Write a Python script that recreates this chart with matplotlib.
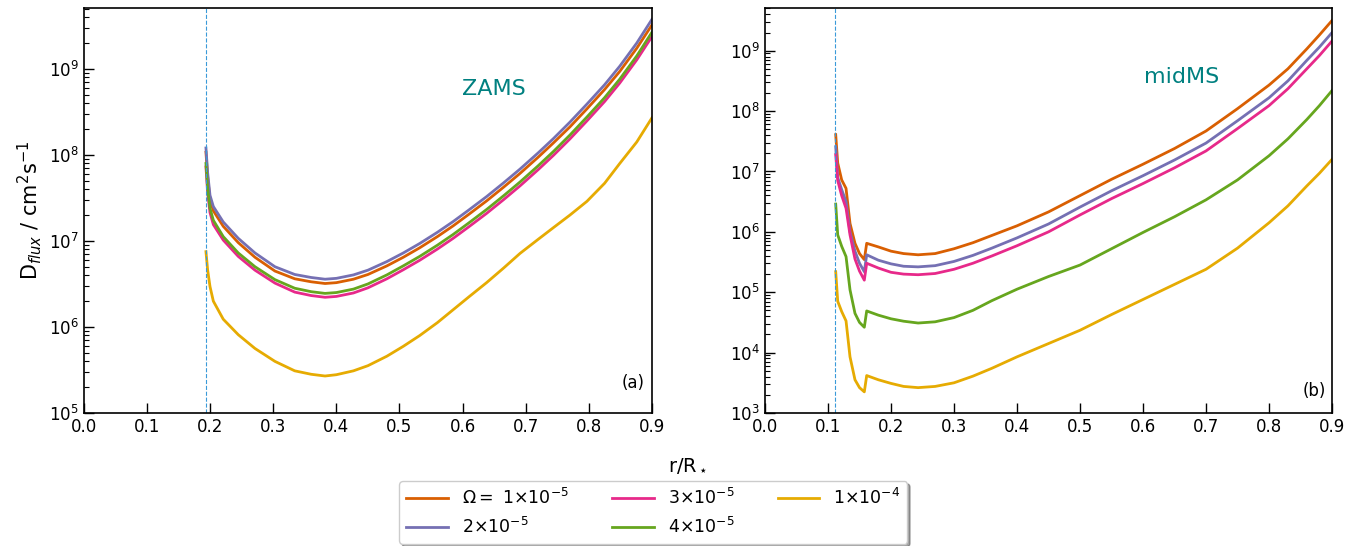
import numpy as np
import matplotlib
matplotlib.use('Agg')
import matplotlib.pyplot as plt

# ZAMS panel (a): r/R* and log10(D_flux)
r_zams = [0.1933, 0.196, 0.1997, 0.205, 0.2207, 0.2445, 0.271, 0.3026, 0.334, 0.36, 0.382,
          0.40, 0.427, 0.45, 0.48, 0.506, 0.532, 0.56, 0.585, 0.61, 0.638, 0.665, 0.691,
          0.72, 0.744, 0.77, 0.797, 0.825, 0.849, 0.876, 0.9]
zams_1e5 = [8.03, 7.74, 7.48, 7.35, 7.17, 6.98, 6.81, 6.65, 6.56, 6.525, 6.505,
            6.515, 6.555, 6.61, 6.71, 6.81, 6.92, 7.05, 7.175, 7.31, 7.465, 7.625, 7.785,
            7.975, 8.14, 8.325, 8.535, 8.76, 8.97, 9.24, 9.51]
zams_2e5 = [8.08, 7.79, 7.53, 7.40, 7.22, 7.03, 6.86, 6.70, 6.61, 6.575, 6.555,
            6.565, 6.605, 6.66, 6.76, 6.86, 6.97, 7.10, 7.225, 7.36, 7.515, 7.675, 7.835,
            8.025, 8.19, 8.38, 8.59, 8.815, 9.03, 9.30, 9.575]
zams_3e5 = [7.86, 7.56, 7.33, 7.19, 7.01, 6.82, 6.66, 6.51, 6.405, 6.365, 6.345,
            6.355, 6.395, 6.455, 6.56, 6.665, 6.775, 6.905, 7.03, 7.165, 7.32, 7.48, 7.64,
            7.83, 7.995, 8.185, 8.395, 8.62, 8.835, 9.105, 9.375]
zams_4e5 = [7.90, 7.61, 7.38, 7.24, 7.05, 6.86, 6.70, 6.55, 6.45, 6.41, 6.39,
            6.40, 6.44, 6.50, 6.605, 6.71, 6.82, 6.95, 7.075, 7.21, 7.365, 7.525, 7.685,
            7.875, 8.04, 8.23, 8.44, 8.665, 8.88, 9.15, 9.425]
zams_1e4 = [6.875, 6.66, 6.47, 6.30, 6.09, 5.91, 5.75, 5.60, 5.49, 5.45, 5.43,
            5.445, 5.49, 5.55, 5.66, 5.775, 5.90, 6.05, 6.20, 6.35, 6.515, 6.685, 6.855,
            7.02, 7.155, 7.30, 7.46, 7.67, 7.90, 8.15, 8.43]

# midMS panel (b)
r_mid = [0.1122, 0.1154, 0.1217, 0.1286, 0.1349, 0.1428, 0.150, 0.1576, 0.1614, 0.18,
         0.20, 0.22, 0.243, 0.27, 0.30, 0.33, 0.36, 0.40, 0.45, 0.50, 0.55, 0.60,
         0.65, 0.70, 0.75, 0.80, 0.83, 0.86, 0.88, 0.9]
mid_1e5 = [7.61, 7.14, 6.86, 6.72, 6.14, 5.81, 5.64, 5.54, 5.81, 5.75,
           5.68, 5.64, 5.62, 5.64, 5.72, 5.82, 5.94, 6.10, 6.33, 6.60, 6.87, 7.12,
           7.38, 7.67, 8.04, 8.43, 8.70, 9.03, 9.26, 9.50]
mid_2e5 = [7.41, 6.90, 6.70, 6.50, 6.00, 5.68, 5.48, 5.34, 5.62, 5.53,
           5.47, 5.43, 5.42, 5.44, 5.51, 5.61, 5.73, 5.90, 6.13, 6.41, 6.68, 6.93,
           7.19, 7.47, 7.84, 8.22, 8.50, 8.84, 9.06, 9.30]
mid_3e5 = [7.28, 6.85, 6.60, 6.39, 5.95, 5.55, 5.35, 5.20, 5.48, 5.40,
           5.33, 5.30, 5.29, 5.31, 5.38, 5.48, 5.60, 5.77, 6.00, 6.28, 6.55, 6.80,
           7.06, 7.34, 7.71, 8.09, 8.37, 8.70, 8.92, 9.16]
mid_4e5 = [6.46, 5.95, 5.76, 5.59, 5.04, 4.65, 4.50, 4.42, 4.69, 4.62,
           4.56, 4.52, 4.49, 4.51, 4.58, 4.70, 4.86, 5.05, 5.26, 5.45, 5.72, 5.99,
           6.25, 6.53, 6.86, 7.26, 7.54, 7.86, 8.09, 8.34]
mid_1e4 = [5.34, 4.85, 4.68, 4.525, 3.93, 3.55, 3.42, 3.35, 3.62, 3.55,
           3.49, 3.44, 3.42, 3.44, 3.50, 3.61, 3.74, 3.93, 4.15, 4.37, 4.63, 4.88,
           5.13, 5.38, 5.73, 6.15, 6.43, 6.76, 6.97, 7.20]

labels = [r'$\Omega=$ 1$\times$10$^{-5}$', r'2$\times$10$^{-5}$', r'3$\times$10$^{-5}$',
          r'4$\times$10$^{-5}$', r'1$\times$10$^{-4}$']
colors = ['#d95f02', '#7570b3', '#e7298a', '#66a61e', '#e6ab02']

fig = plt.figure(figsize=(13.61, 5.46), dpi=100)
ax1 = fig.add_axes([0.0617, 0.2436, 0.4173, 0.7418])
ax2 = fig.add_axes([0.5621, 0.2436, 0.4166, 0.7418])

zams = [zams_1e5, zams_2e5, zams_3e5, zams_4e5, zams_1e4]
mid = [mid_1e5, mid_2e5, mid_3e5, mid_4e5, mid_1e4]

for i in range(5):
    ax1.plot(r_zams, 10 ** np.array(zams[i]), color=colors[i], lw=2, label=labels[i])
    ax2.plot(r_mid, 10 ** np.array(mid[i]), color=colors[i], lw=2)

ax1.axvline(0.193, color='#3a9ad9', ls='--', lw=0.8)
ax2.axvline(0.111, color='#3a9ad9', ls='--', lw=0.8)

for ax in [ax1, ax2]:
    ax.set_yscale('log')
    ax.set_xlim(0, 0.9)
    ax.set_xticks(np.arange(0, 0.91, 0.1))
    ax.tick_params(which='major', direction='in', length=7, width=1, labelsize=12)
    ax.tick_params(which='minor', direction='in', length=3.5, width=0.8)
    for s in ax.spines.values():
        s.set_linewidth(1.2)

ax1.set_ylim(1e5, 5.1e9)
ax2.set_ylim(1e3, 5.1e9)

ax1.text(0.722, 0.784, 'ZAMS', color='teal', fontsize=16, ha='center', va='baseline',
         transform=ax1.transAxes)
ax2.text(0.734, 0.815, 'midMS', color='teal', fontsize=16, ha='center', va='baseline',
         transform=ax2.transAxes)
ax1.text(0.988, 0.062, '(a)', fontsize=12, ha='right', va='baseline', transform=ax1.transAxes)
ax2.text(0.989, 0.043, '(b)', fontsize=12, ha='right', va='baseline', transform=ax2.transAxes)

ax1.set_ylabel(r'D$_{flux}$ / cm$^2$s$^{-1}$', fontsize=15)
fig.text(0.505, 0.148, r'r/R$_\star$', fontsize=14, ha='center', va='center')

fig.legend(loc='lower center', bbox_to_anchor=(0.48, -0.012), ncol=3, fontsize=12.5,
           shadow=True, handlelength=2.4, columnspacing=2.5)

fig.savefig('out.png', dpi=100)
